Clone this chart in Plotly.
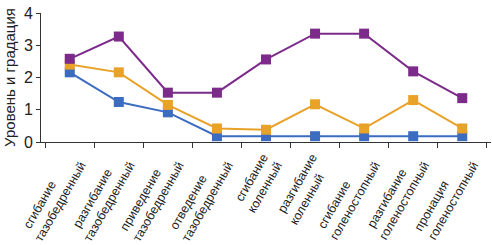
import plotly.graph_objects as go

categories = [
    ("сгибание", "тазобедренный"),
    ("разгибание", "тазобедренный"),
    ("приведение", "тазобедренный"),
    ("отведение", "тазобедренный"),
    ("сгибание", "коленный"),
    ("разгибание", "коленный"),
    ("сгибание", "голеностопный"),
    ("разгибание", "голеностопный"),
    ("пронация", "голеностопный"),
]
purple_values = [2.58, 3.27, 1.53, 1.53, 2.56, 3.36, 3.36, 2.19, 1.36]
orange_values = [2.4, 2.16, 1.15, 0.42, 0.38, 1.17, 0.42, 1.3, 0.42]
blue_values = [2.16, 1.24, 0.92, 0.18, 0.18, 0.18, 0.18, 0.18, 0.18]

FONT = "Liberation Sans, Arial, sans-serif"

x_keys = [a + " " + b for a, b in categories]


def padded(a, b):
    # left-align the two lines of a rotated label by padding the shorter one
    d = len(b) - len(a)
    nb = "\u00a0"
    if d > 0:
        a = a + nb * int(round(1.8 * d))
    elif d < 0:
        b = b + nb * int(round(-1.8 * d))
    return a + "<br>" + b


tick_text = [padded(a, b) for a, b in categories]

fig = go.Figure()
for vals, col in [(blue_values, "#3b6cc0"), (orange_values, "#e8a228"), (purple_values, "#7d2b8b")]:
    fig.add_trace(go.Scatter(
        x=x_keys, y=vals, mode="lines+markers",
        line=dict(color=col, width=2),
        marker=dict(symbol="square", size=10, color=col),
        showlegend=False,
    ))

fig.update_layout(
    width=492, height=245,
    margin=dict(l=41, r=1, t=13, b=103),
    paper_bgcolor="white", plot_bgcolor="white",
    font=dict(family=FONT, color="#222", size=12),
)
fig.update_xaxes(
    type="category", showgrid=False, showline=True, linecolor="#333", linewidth=1,
    ticks="outside", ticklen=5, tickcolor="#333", tickson="boundaries",
    tickvals=x_keys, ticktext=tick_text,
    tickangle=-60, tickfont=dict(size=12.5, family=FONT), automargin=False,
    ticklabelstandoff=2, ticklabelshift=-3,
)
fig.update_yaxes(
    range=[0, 4], tickvals=[0, 1, 2, 3, 4], showgrid=False, zeroline=False,
    showline=True, linecolor="#333", linewidth=1, ticks="outside", ticklen=4,
    tickcolor="#333", tickfont=dict(size=16, family=FONT), automargin=False,
    title=dict(text="Уровень и градация", font=dict(size=15, family=FONT), standoff=4),
)
fig.write_html(
    "out.html",
    config={"displayModeBar": False},
    post_script="document.body.style.margin='0';document.body.style.overflow='hidden';",
)
